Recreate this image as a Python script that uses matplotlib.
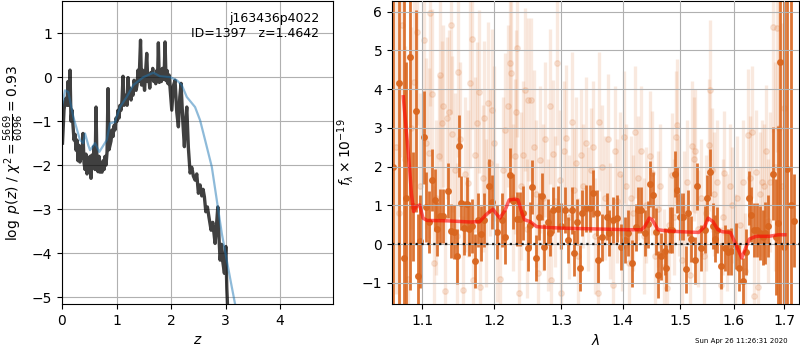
import matplotlib
matplotlib.use("Agg")
import matplotlib.pyplot as plt
from matplotlib.ticker import FixedLocator, NullLocator, FormatStrFormatter

# ── Data: redshift likelihood (left panel) ───────────────────
z_grid = [0.009, 0.037, 0.055, 0.073, 0.092, 0.110, 0.128, 0.147, 0.165, 0.183,
          0.202, 0.220, 0.239, 0.257, 0.275, 0.294, 0.312, 0.330, 0.349, 0.367,
          0.385, 0.404, 0.422, 0.440, 0.459, 0.477, 0.495, 0.514, 0.532, 0.550,
          0.569, 0.587, 0.606, 0.624, 0.642, 0.661, 0.679, 0.697, 0.716, 0.734,
          0.752, 0.771, 0.789, 0.807, 0.826, 0.844, 0.862, 0.881, 0.899, 0.917,
          0.936, 0.954, 0.972, 0.991, 1.009, 1.028, 1.046, 1.064, 1.083, 1.101,
          1.119, 1.138, 1.156, 1.174, 1.193, 1.211, 1.229, 1.248, 1.266, 1.284,
          1.303, 1.321, 1.339, 1.358, 1.376, 1.394, 1.413, 1.440, 1.459, 1.477,
          1.495, 1.514, 1.532, 1.554, 1.573, 1.591, 1.609, 1.628, 1.646, 1.664,
          1.683, 1.701, 1.719, 1.738, 1.752, 1.767, 1.785, 1.804, 1.822, 1.840,
          1.859, 1.875, 1.890, 1.908, 1.927, 1.945, 1.963, 1.982, 2.013, 2.042,
          2.073, 2.105, 2.134, 2.160, 2.183, 2.215, 2.244, 2.266, 2.288, 2.317,
          2.349, 2.380, 2.409, 2.440, 2.471, 2.501, 2.532, 2.563, 2.587, 2.611,
          2.637, 2.666, 2.697, 2.734, 2.765, 2.807, 2.831, 2.857, 2.881, 2.899,
          2.927, 2.949, 2.978, 3.004, 3.022, 3.039]
logp = [-1.50, -0.75, -0.55, -0.48, -0.64, -0.10, -0.64, 0.16, -1.00, -0.75,
        -1.10, -1.43, -1.30, -1.66, -1.43, -1.90, -1.55, -1.93, -1.70, -1.85,
        -1.28, -1.95, -2.10, -1.75, -2.20, -1.90, -2.10, -1.80, -2.30, -1.77,
        -2.05, -1.57, -2.10, -0.68, -2.00, -2.15, -1.80, -2.16, -2.05, -2.16,
        -1.90, -2.10, -1.80, -2.00, -1.70, -0.26, -1.65, -1.55, -1.45, -1.20,
        -1.35, -1.10, -1.20, -0.93, -1.00, -0.75, -0.93, -0.64, -0.75, -0.52,
        0.02, -0.64, -0.48, -0.41, -0.64, -0.01, -0.41, -0.25, -0.52, -0.30,
        -0.41, -0.07, -0.18, -0.30, -0.18, 0.16, -0.10, 0.84, -0.18, 0.16,
        -0.07, -0.30, 0.10, 0.54, -0.10, 0.05, -0.25, 0.10, -0.05, 0.20,
        -0.10, 0.05, -0.15, 0.15, -0.05, 0.78, -0.12, 0.10, -0.10, 0.20,
        -0.05, 0.15, 0.80, -0.08, 0.15, -0.15, 0.05, -0.25, -0.75, -0.20,
        -0.07, -0.80, -1.13, -0.45, -0.14, -1.00, -1.58, -1.00, -0.68, -1.60,
        -2.18, -2.05, -2.25, -2.34, -2.20, -2.64, -2.45, -2.70, -2.55, -2.72,
        -3.06, -2.95, -3.20, -3.48, -3.30, -3.78, -3.40, -2.95, -3.70, -4.16,
        -3.80, -4.20, -4.46, -3.85, -4.80, -5.30]

z_prior = [0.0, 0.055, 0.116, 0.207, 0.330, 0.391, 0.422, 0.483, 0.514, 0.606,
           0.684, 0.820, 0.881, 0.972, 1.064, 1.187, 1.308, 1.492, 1.675, 1.798,
           1.982, 2.105, 2.196, 2.288, 2.440, 2.532, 2.624, 2.747, 2.839, 2.930,
           3.009, 3.101, 3.174, 3.300]
logp_prior = [-0.68, -0.30, -0.34, -0.90, -1.43, -1.50, -1.28, -1.55, -1.66, -1.50,
              -1.70, -1.43, -1.05, -1.02, -0.68, -0.45, -0.18, 0.00, 0.10, 0.02,
              0.00, -0.07, -0.18, -0.45, -0.68, -0.98, -1.43, -2.04, -2.80, -3.55,
              -4.08, -4.69, -5.16, -5.80]

# ── Data: binned spectrum (right panel, dark points) ─────────
wave_bin = [1.0625, 1.0695, 1.0769, 1.0795, 1.0837, 1.0882, 1.0916, 1.0942, 1.0978, 1.1021,
            1.1057, 1.1087, 1.1133, 1.1167, 1.1200, 1.1244, 1.1281, 1.1343, 1.1390, 1.1425,
            1.1472, 1.1494, 1.1531, 1.1572, 1.1610, 1.1638, 1.1680, 1.1726, 1.1759, 1.1806,
            1.1853, 1.1920, 1.1963, 1.2043, 1.2108, 1.2156, 1.2229, 1.2277, 1.2327, 1.2377,
            1.2425, 1.2491, 1.2526, 1.2560, 1.2611, 1.2661, 1.2703, 1.2742, 1.2795, 1.2829,
            1.2881, 1.2949, 1.2999, 1.3062, 1.3114, 1.3168, 1.3199, 1.3247, 1.3299, 1.3336,
            1.3389, 1.3459, 1.3513, 1.3567, 1.3593, 1.3658, 1.3731, 1.3774, 1.3840, 1.3897,
            1.3964, 1.4037, 1.4092, 1.4150, 1.4223, 1.4262, 1.4320, 1.4376, 1.4434, 1.4476,
            1.4520, 1.4567, 1.4608, 1.4668, 1.4725, 1.4756, 1.4814, 1.4863, 1.4903, 1.4945,
            1.4993, 1.5053, 1.5101, 1.5143, 1.5204, 1.5265, 1.5311, 1.5388, 1.5450, 1.5500,
            1.5543, 1.5604, 1.5649, 1.5687, 1.5762, 1.5825, 1.5887, 1.5952, 1.6048, 1.6111,
            1.6176, 1.6242, 1.6306, 1.6340, 1.6404, 1.6457, 1.6521, 1.6568, 1.6615, 1.6667,
            1.6767, 1.6836, 1.6883, 1.6922, 1.6990, 1.7058, 1.7130, 1.7200]
flux_bin = [2.00, 4.15, -0.36, 1.19, 4.82, 0.97, 3.43, -0.82, 0.07, 2.75,
            0.95, 0.58, 1.66, 1.14, 0.39, 0.73, 0.73, 1.38, 0.33, 0.31,
            -0.32, 2.52, 1.06, 0.41, 1.03, 0.39, 0.46, -0.44, 0.63, 0.27,
            0.62, 1.49, 1.08, 0.31, 0.63, 0.18, 1.79, 1.10, 0.65, 0.64,
            0.80, -0.10, 0.49, 1.48, -0.36, 0.71, 1.23, -0.08, 0.57, 0.28,
            0.88, 0.90, 0.47, 0.88, 0.11, 0.87, -0.23, 0.57, -0.62, 0.80,
            0.92, 0.92, 1.31, 0.80, -0.40, 0.17, 0.71, 0.28, 0.62, 0.66,
            -0.08, 0.11, 0.28, -0.50, 0.43, 0.88, 0.88, 0.28, 0.51, 1.55,
            1.27, 0.32, -0.79, -0.32, -0.19, -0.62, 0.36, 0.36, 1.81, 1.40,
            0.71, 0.71, -0.65, 0.80, 0.13, -0.42, 1.49, -0.10, 0.37, 1.19,
            1.85, 0.46, 0.14, 0.36, -0.57, -0.10, -0.21, -0.19, -0.05, -0.62,
            -0.96, -0.20, 1.19, 0.76, 0.36, 0.36, 0.29, 0.17, 0.29, 0.46,
            1.81, 0.19, 0.55, 4.71, -0.08, 1.93, 1.00, 0.60]
err_bin = [9.0, 8.0, 8.0, 3.5, 6.0, 1.4, 2.6, 1.6, 1.2, 1.2,
           0.9, 0.8, 0.8, 0.8, 0.7, 0.7, 0.7, 0.7, 0.7, 0.7,
           0.7, 0.8, 0.7, 0.7, 0.7, 0.7, 0.7, 0.7, 0.7, 0.7,
           0.7, 0.7, 0.7, 0.7, 0.7, 0.7, 0.7, 0.7, 0.7, 0.7,
           0.7, 0.6, 0.6, 0.7, 0.6, 0.6, 0.6, 0.6, 0.6, 0.6,
           0.6, 0.6, 0.6, 0.6, 0.6, 0.6, 0.6, 0.6, 0.6, 0.6,
           0.6, 0.6, 0.6, 0.6, 0.6, 0.6, 0.6, 0.6, 0.6, 0.6,
           0.6, 0.6, 0.6, 0.6, 0.6, 0.6, 0.6, 0.6, 0.6, 0.6,
           0.6, 0.6, 0.6, 0.6, 0.6, 0.6, 0.6, 0.6, 0.6, 0.6,
           0.6, 0.6, 0.6, 0.6, 0.6, 0.6, 0.6, 0.6, 0.6, 0.6,
           0.6, 0.6, 0.6, 0.6, 0.6, 0.6, 0.6, 0.6, 0.6, 0.6,
           0.6, 0.6, 0.7, 0.7, 0.7, 0.7, 0.7, 0.7, 0.8, 0.8,
           1.2, 1.5, 2.5, 8.0, 8.0, 8.0, 8.0, 1.2]

# ── Data: unbinned spectrum (right panel, faint points) ──────
wave_raw = [1.066, 1.070, 1.074, 1.078, 1.082, 1.086, 1.089, 1.093, 1.097, 1.102,
            1.105, 1.109, 1.111, 1.113, 1.116, 1.119, 1.122, 1.124, 1.127, 1.128,
            1.131, 1.133, 1.136, 1.139, 1.141, 1.144, 1.147, 1.149, 1.152, 1.155,
            1.158, 1.163, 1.165, 1.168, 1.170, 1.173, 1.175, 1.178, 1.180, 1.183,
            1.185, 1.188, 1.191, 1.194, 1.196, 1.200, 1.204, 1.208, 1.212, 1.216,
            1.220, 1.223, 1.224, 1.227, 1.230, 1.231, 1.233, 1.236, 1.239, 1.242,
            1.245, 1.248, 1.250, 1.254, 1.258, 1.261, 1.265, 1.268, 1.272, 1.276,
            1.280, 1.283, 1.285, 1.288, 1.291, 1.294, 1.298, 1.300, 1.304, 1.308,
            1.312, 1.317, 1.320, 1.323, 1.327, 1.331, 1.335, 1.339, 1.343, 1.347,
            1.351, 1.355, 1.359, 1.361, 1.365, 1.370, 1.375, 1.379, 1.384, 1.387,
            1.391, 1.395, 1.399, 1.402, 1.406, 1.410, 1.414, 1.418, 1.421, 1.426,
            1.432, 1.436, 1.440, 1.446, 1.450, 1.455, 1.460, 1.465, 1.471, 1.476,
            1.480, 1.485, 1.489, 1.493, 1.494, 1.498, 1.503, 1.508, 1.513, 1.518,
            1.522, 1.526, 1.528, 1.533, 1.538, 1.543, 1.547, 1.553, 1.555, 1.559,
            1.563, 1.568, 1.575, 1.579, 1.582, 1.587, 1.592, 1.597, 1.602, 1.607,
            1.612, 1.617, 1.622, 1.627, 1.632, 1.635, 1.640, 1.644, 1.648, 1.652,
            1.656, 1.659, 1.663, 1.667, 1.671, 1.677, 1.681, 1.685, 1.690, 1.695,
            1.700]
flux_raw = [2.50, 0.80, 5.65, 2.20, -0.90, 3.00, 4.19, 5.48, 1.50, 5.27,
            2.60, 2.35, 5.95, 3.87, -0.50, 1.20, 2.26, 4.35, 3.13, 3.56,
            -1.20, 3.25, 3.42, 5.65, 2.84, 1.90, 0.20, 4.45, 2.70, -1.18,
            1.80, 1.57, 4.15, 5.28, -0.92, 2.30, 3.12, 3.93, -1.10, 1.70,
            3.25, 0.80, 3.63, 2.10, 3.46, 2.60, 0.30, -0.90, 1.90, 2.94,
            3.56, 4.66, 4.41, 1.20, 2.26, 3.42, 5.05, -1.26, 1.50, 2.30,
            3.98, 0.40, 3.72, 3.72, 2.50, 1.30, -0.75, 2.18, 1.20, 2.70,
            0.50, 3.55, -0.92, 2.33, 1.10, 4.66, 1.66, -1.26, 2.40, 2.73,
            0.70, 3.16, 1.40, 2.09, -0.30, 2.30, 1.50, 2.60, 0.90, 1.90,
            2.50, 0.20, -1.26, 3.16, 2.00, 1.20, 2.70, 0.60, -1.05, 2.39,
            1.10, 1.80, 0.30, 2.77, 1.50, -0.50, 1.20, 0.80, 2.90, 1.70,
            2.39, 0.20, 1.00, 2.26, 1.83, -0.30, 0.90, 1.50, -0.60, -1.13,
            0.50, 1.79, 0.70, 2.77, 3.07, 1.20, -0.40, 0.90, 1.60, -0.80,
            2.52, 2.20, 2.39, 0.40, 1.20, -0.30, 0.80, 2.56, 3.98, 1.90,
            1.30, 1.60, -1.05, 0.70, 1.83, 0.30, 1.50, 1.00, -0.20, 1.20,
            0.50, 1.60, -0.70, 2.82, 1.70, 2.90, -1.35, 1.87, -1.10, 1.30,
            1.60, 1.49, 2.40, 0.60, 1.60, 5.59, 2.00, 5.57, 3.00, 1.50,
            3.50]
err_raw = [3.8, 3.4, 3.4, 2.9, 2.9, 2.6, 2.6, 2.4, 2.4, 2.4,
           2.2, 2.2, 2.4, 2.2, 2.0, 2.0, 2.1, 2.2, 2.1, 2.1,
           1.9, 2.1, 2.1, 2.3, 2.0, 2.0, 1.9, 2.2, 2.0, 1.9,
           2.0, 1.9, 2.2, 2.3, 1.9, 2.0, 2.1, 2.1, 1.8, 1.9,
           2.0, 1.9, 2.1, 1.9, 2.1, 2.0, 1.8, 1.8, 1.9, 2.0,
           2.1, 2.2, 2.2, 1.9, 2.0, 2.1, 2.3, 1.8, 1.9, 1.9,
           2.1, 1.8, 2.1, 2.1, 2.0, 1.9, 1.8, 1.9, 1.9, 2.0,
           1.7, 2.0, 1.7, 1.9, 1.7, 2.1, 1.8, 1.7, 1.8, 1.9,
           1.6, 1.8, 1.6, 1.7, 1.5, 1.7, 1.6, 1.7, 1.6, 1.6,
           1.7, 1.5, 1.5, 1.8, 1.6, 1.6, 1.7, 1.5, 1.5, 1.7,
           1.6, 1.6, 1.5, 1.7, 1.6, 1.5, 1.6, 1.5, 1.7, 1.6,
           1.7, 1.5, 1.5, 1.7, 1.6, 1.5, 1.5, 1.6, 1.5, 1.5,
           1.5, 1.6, 1.5, 1.7, 1.7, 1.5, 1.5, 1.5, 1.6, 1.5,
           1.7, 1.6, 1.6, 1.5, 1.5, 1.5, 1.5, 1.7, 1.8, 1.6,
           1.6, 1.6, 1.5, 1.5, 1.6, 1.5, 1.6, 1.5, 1.5, 1.6,
           1.5, 1.6, 1.5, 1.7, 1.6, 1.7, 1.5, 1.6, 1.5, 1.6,
           1.6, 1.6, 1.7, 1.6, 1.8, 2.7, 2.7, 3.2, 3.7, 4.2,
           5.0]

# ── Data: best-fit model (red line) ──────────────────────────
wave_model = [1.0755, 1.0770, 1.0805, 1.0835, 1.0860, 1.0890, 1.0925, 1.0968, 1.1013, 1.1066,
              1.1332, 1.1651, 1.1790, 1.1880, 1.1980, 1.2020, 1.2080, 1.2156, 1.2215, 1.2300,
              1.2345, 1.2390, 1.2440, 1.2525, 1.2625, 1.2778, 1.3030, 1.3567, 1.4129, 1.4320,
              1.4376, 1.4455, 1.4505, 1.4608, 1.4756, 1.4993, 1.5340, 1.5450, 1.5515, 1.5604,
              1.5698, 1.5778, 1.5936, 1.6000, 1.6088, 1.6155, 1.6242, 1.6306, 1.6434, 1.6690,
              1.6883, 1.7015]
flux_model = [3.80, 3.46, 2.69, 2.00, 1.31, 0.84, 0.97, 1.01, 0.67, 0.61,
              0.60, 0.57, 0.58, 0.76, 0.90, 0.80, 0.67, 0.88, 1.14, 1.16,
              1.14, 0.88, 0.63, 0.58, 0.45, 0.43, 0.41, 0.39, 0.37, 0.37,
              0.45, 0.67, 0.63, 0.37, 0.34, 0.32, 0.30, 0.45, 0.67, 0.58,
              0.37, 0.32, 0.30, 0.11, -0.15, -0.36, -0.06, 0.13, 0.20, 0.20,
              0.24, 0.24]

# ── Labels ───────────────────────────────────────────────────
ROOT = "j163436p4022"
OBJ_ID = 1397
Z_BEST = 1.4642
CHI2_NUM, CHI2_DEN, CHI2_RED = 5669, 6096, 0.93
STAMP = "Sun Apr 26 11:26:31 2020"

ORANGE = "#d9661f"

fig = plt.figure(figsize=(8, 3.5), dpi=100)

# ── Left: log p(z) ──────────────────────────────────────────
ax1 = fig.add_axes([0.0775, 0.131, 0.3388, 0.866])
ax1.plot(z_grid, logp, color="k", alpha=0.75, lw=2.4)
ax1.plot(z_prior, logp_prior, color="#1f77b4", alpha=0.5, lw=1.6)
ax1.set_xlim(0, 4.97)
ax1.set_ylim(-5.16, 1.73)
ax1.set_xticks([0, 1, 2, 3, 4])
ax1.set_yticks([-5, -4, -3, -2, -1, 0, 1])
ax1.grid(True)
ax1.set_xlabel(r"$z$")
ax1.set_ylabel(r"$\log\ p(z)$ / $\chi^2=\frac{%d}{%d}=%.2f$"
               % (CHI2_NUM, CHI2_DEN, CHI2_RED))
ax1.text(0.95, 0.965, "%s\nID=%d   z=%.4f" % (ROOT, OBJ_ID, Z_BEST),
         transform=ax1.transAxes, ha="right", va="top", fontsize=9)

# ── Right: spectrum ─────────────────────────────────────────
ax2 = fig.add_axes([0.49, 0.131, 0.509, 0.866])
ax2.errorbar(wave_raw, flux_raw, yerr=err_raw, fmt="o", color=ORANGE,
             alpha=0.14, ms=4, lw=2.4, zorder=1)
ax2.errorbar(wave_bin, flux_bin, yerr=err_bin, fmt="o", color=ORANGE,
             alpha=0.9, ms=4, lw=2, zorder=2)
ax2.plot(wave_model, flux_model, color="red", alpha=0.6, lw=2.5, zorder=3)
ax2.axhline(0, color="k", ls=":", lw=1.6, alpha=0.9, zorder=4)

ax2.set_xscale("log")
ax2.set_xlim(1.061, 1.731)
ax2.set_ylim(-1.55, 6.27)
ax2.xaxis.set_major_locator(FixedLocator([1.1, 1.2, 1.3, 1.4, 1.5, 1.6, 1.7]))
ax2.xaxis.set_major_formatter(FormatStrFormatter("%.1f"))
ax2.xaxis.set_minor_locator(NullLocator())
ax2.set_yticks([-1, 0, 1, 2, 3, 4, 5, 6])
ax2.set_axisbelow(False)
ax2.grid(True)
ax2.set_xlabel(r"$\lambda$")
ax2.set_ylabel(r"$f_\lambda \times 10^{-19}$")

fig.text(0.985, 0.018, STAMP, ha="right", va="bottom", fontsize=5)

fig.savefig("out.png", dpi=100)
